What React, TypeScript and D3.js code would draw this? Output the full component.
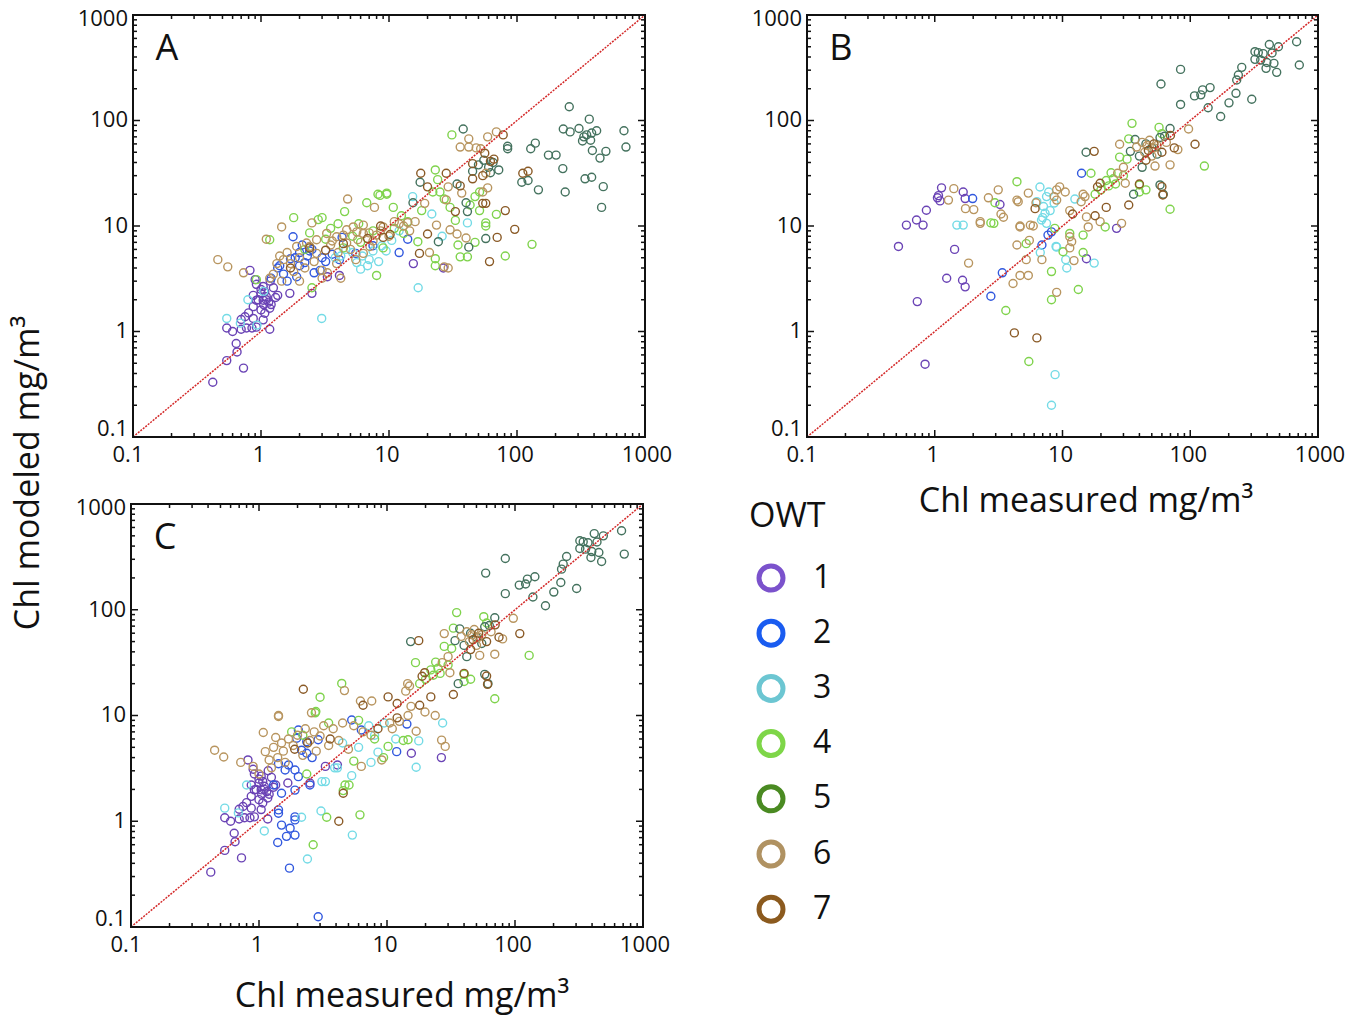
import React from 'react';
import * as d3 from 'd3';

type P = [number, number];

const OWT_LABELS = ['1', '2', '3', '4', '5', '6', '7'];
const POINT_COLORS = ['#6a43b5', '#3158de', '#74dbe6', '#7fd34c', '#44725e', '#b8955f', '#8a5a26'];
const LEGEND_COLORS = ['#7b52cc', '#1a5cf0', '#6cc6d2', '#7ed648', '#4a8a22', '#b09262', '#8b5a1e'];
const TICK_VALUES = [0.1, 1, 10, 100, 1000];
const TICK_LABELS = ['0.1', '1', '10', '100', '1000'];
const X_TITLE = 'Chl measured mg/m³';
const Y_TITLE = 'Chl modeled mg/m³';

// ---------- Panel A ----------
const A1: P[] = [[0.42,0.33],[0.54,0.53],[0.73,0.45],[0.65,0.64],[0.64,0.77],[0.54,1.08],[0.6,1.0],[0.7,1.05],[0.77,1.08],[0.85,1.08],[0.92,1.1],[1.17,1.05],[0.75,1.38],[0.87,1.33],[1.04,1.29],[1.07,1.49],[1.0,1.6],[0.87,1.72],[0.92,1.98],[1.04,1.98],[1.1,2.14],[1.07,2.38],[1.0,2.5],[1.04,2.67],[0.92,2.8],[1.15,1.9],[1.17,1.66],[1.3,2.1],[1.35,2.2],[1.18,3.0],[0.9,3.1],[0.87,2.2],[1.0,2.3],[1.1,2.0],[0.95,2.0],[1.05,1.8],[0.8,1.5],[0.7,1.3],[1.68,2.3],[2.5,2.3],[3.3,3.3],[4.1,3.4],[0.82,3.8],[15.5,4.4],[26.6,4.0],[1.25,2.6],[1.2,1.8]];
const A2: P[] = [[1.78,7.9],[2.1,6.6],[2.4,5.8],[2.0,5.6],[1.7,4.9],[2.0,4.2],[1.4,4.2],[1.35,4.0],[2.6,3.6],[1.9,3.3],[2.9,3.8],[3.2,4.6],[4.1,4.8],[1.6,3.0],[2.3,5.2],[2.5,6.0],[3.6,5.4],[7.5,6.5],[14,7.5],[12,5.6],[4.3,7.8],[1.5,3.5],[2.2,4.5],[1.85,5.0],[1.2,3.2],[3.0,5.0],[5.5,5.5]];
const A3: P[] = [[0.54,1.33],[0.69,1.2],[0.93,1.15],[0.79,2.0],[2.98,1.33],[6.2,5.2],[7.0,4.8],[7.5,5.8],[6.8,4.2],[6.0,3.9],[16.9,2.6],[41,10.7],[26,8],[3.8,5.0],[4.6,6.0],[5.2,5.6],[8.3,4.6],[15.3,19],[21.6,13],[10.5,7.3],[8.8,6.5],[1.05,2.4],[12,9],[5.6,4.5],[9.5,5.8],[4.2,5.2]];
const A4: P[] = [[8.2,20],[9.6,20],[6.7,16.6],[4.5,13.7],[3.0,12],[2.8,11.5],[31,73],[23,34],[24,27.5],[9.6,20.5],[8.5,19.5],[10.8,15],[22,21],[25,21],[51,21],[47,19],[43,15.8],[51,14],[57,10.7],[69,12.9],[57,10],[34.6,6.6],[36,5.1],[41,5.1],[23,4.9],[23,4.2],[81,5.2],[131,6.7],[47,7],[16.8,7.1],[33,11.3],[2.4,8.6],[1.17,7.4],[8.0,3.4],[2.5,2.6],[0.92,3.1],[4.4,6.2],[1.8,12],[3.5,9.5],[5.8,10.5],[7.5,9.0],[12.5,12.5],[14,11],[18,14],[11,9.5],[6,7],[3.2,7.5],[27,18],[30,15],[2.2,6.0],[4.0,10.5],[5.2,8.0],[9.0,6.2],[13,8.5]];
const A5: P[] = [[256,135],[367,103],[230,83],[260,78],[305,84],[333,70],[350,73],[383,76],[419,80],[325,64],[376,65],[685,80],[710,56],[388,52],[445,44],[495,51],[228,35],[340,28],[383,29],[472,23.6],[238,21],[458,15],[176,47],[202,47],[128,54],[139,61],[109,26],[122,27],[147,22],[84.5,57],[84.5,54],[38,83],[50,38],[55,42],[60,36],[65,40],[72,34],[62,32],[24.3,7.1],[57,7.6],[42,6.3],[17.5,26],[34,25],[40,16.6],[41,13.7],[15.4,16.6],[45,33]];
const A6: P[] = [[0.46,4.8],[0.55,4.1],[0.73,3.6],[1.45,9.8],[1.1,7.5],[4.75,18],[7.7,15],[2.5,10.7],[1.9,6.4],[2.27,6.9],[2.72,7.4],[3.26,8.5],[3.9,7.9],[4.67,9.2],[5.26,9.8],[6.3,10.2],[6.3,8.5],[5.7,7.4],[4.67,6.9],[3.5,6.6],[2.72,5.5],[3.0,3.8],[3.3,3.6],[3.9,4.4],[4.2,3.2],[5.5,4.8],[6.3,5.5],[7.1,6.4],[8.0,8.2],[9.0,9.8],[1.17,3.2],[1.33,4.4],[1.5,4.8],[1.6,5.6],[1.25,3.5],[1.45,3.0],[1.8,3.7],[2.2,4.0],[1.4,5.2],[29,4.0],[27,4.1],[20.7,5.6],[23.5,10.2],[30,9.2],[34,8.4],[40,7.7],[29,23.5],[19,16.4],[28,17.7],[37,20.5],[54,21],[59,23],[57,31.6],[52,54],[42,67],[36,56],[42,56],[48,55],[59,70],[69,78],[12,10.5],[14,10.8],[16,11],[13,10],[3.0,3.2],[2.0,3.0],[2.6,4.6],[5.0,6.0],[7.5,7.2],[10,8],[11,11],[14.5,9],[2.4,6.4],[3.6,7.2],[4.4,8.2],[5.6,8.8],[7.0,8.6],[8.6,9.0],[4.0,5.6],[1.7,4.4],[2.0,5.0]];
const A7: P[] = [[96,9.3],[61,4.6],[70,7.8],[17.3,5.5],[20,8.4],[17.7,31.6],[28,31.6],[20,23.5],[33,13.7],[54,16.4],[57,16.4],[81,14],[45,39],[56,49],[78,73],[111,31.6],[122,33],[54,30],[62,41],[66,43],[9.0,7.8],[10.2,8.3],[8.6,10],[4.4,6.8],[2.4,6.2],[36,24],[45,28],[1.7,4.0],[6.8,7.6],[3.2,5.9]];

// ---------- Panel B ----------
const B1: P[] = [[1.13,23],[1.07,19.4],[1.1,17.3],[1.67,21],[1.73,18.2],[3.24,16.0],[0.86,14.1],[0.72,11.4],[0.6,10.2],[0.81,10.2],[0.52,6.4],[1.43,6.0],[1.24,3.2],[1.65,3.06],[1.73,2.65],[0.73,1.92],[0.84,0.49],[15.4,4.9],[26.5,9.5],[1.05,18.5]];
const B2: P[] = [[1.98,18.2],[3.38,3.6],[2.75,2.16],[6.9,6.6],[7.7,8.2],[14.1,31.6],[8.2,8.8]];
const B3: P[] = [[6.66,23.4],[7.5,19],[7.1,15.3],[7.3,13.2],[6.85,11.4],[7.5,10.6],[1.49,10.2],[1.67,10.2],[8.75,0.39],[8.2,0.2],[9,6.3],[6.7,5.6],[8.9,6.4],[10.6,4.8],[10.8,4.0],[17.7,4.45],[12.5,18],[8.6,16.5],[7.8,21],[6.3,17],[7.0,12],[8.0,14]];
const B4: P[] = [[4.4,26.3],[2.96,16.6],[2.75,10.7],[2.9,10.6],[5.2,6.8],[8.2,3.7],[8.2,2.0],[3.6,1.58],[5.45,0.52],[13.3,2.5],[10.1,5.7],[14.5,8.2],[14.5,5.6],[21.6,9.8],[11.4,8.5],[8.7,9.5],[35,94],[57,86],[129,37],[69.5,14.4],[33,67],[16.7,31.6],[24,32],[25,28],[26,25],[23,24],[22,27],[32,43],[40,24.5],[45,22],[40,21],[60,75],[28,45],[30,30],[18,20],[20,22]];
const B5: P[] = [[680,558],[714,336],[416,525],[490,500],[321,449],[341,440],[372,430],[321,380],[356,374],[398,355],[437,437],[452,348],[392,312],[475,286],[253,319],[238,270],[231,242],[228,181],[303,159],[201,147],[173,109],[143,205],[125,195],[121,175],[108,171],[138,132],[84,305],[59,222],[84,142],[15.3,50],[37,66],[34,51],[40,46],[42,36],[58,24.5],[61.5,20],[69.5,84],[58,69],[63,71],[50,55],[45,60],[55,48],[36,20]];
const B6: P[] = [[1.41,22.6],[1.28,17.6],[1.74,14.6],[2.02,14.3],[2.27,11],[2.63,18.5],[3.14,22],[3.3,13],[3.45,12.1],[4.4,17.6],[4.5,17.0],[5.4,20.5],[6.2,16.6],[4.65,10],[5.9,10],[9.0,22],[9.0,17.6],[1.84,4.45],[2.27,10.6],[4.65,9.8],[5.6,10.2],[4.4,6.6],[5.5,7.3],[5.2,4.8],[6.9,4.8],[4.65,3.4],[5.4,3.4],[4.1,2.85],[9.0,2.35],[11.4,7.9],[11.8,7.1],[11.4,6.2],[12.3,4.7],[15.9,9.8],[19.7,11],[29,10.6],[28,59.5],[42,62],[46,58],[44,50],[50,46],[52,55],[48,65],[97,83],[80,53],[69.5,38],[53,37],[31,25.4],[30,36],[27,31.6],[14,17],[15,19],[14.5,20],[9.5,23.5],[10.5,21],[8.6,19],[15.4,12.2],[11.4,14],[38,56],[55,58],[65,62]];
const B7: P[] = [[6.1,14.6],[4.2,0.97],[6.3,0.87],[17.7,51],[109,59.5],[61,19.7],[60,23.6],[33,15.8],[40,25],[19.7,25.4],[18.8,23.5],[18,12.5],[12,13],[47,52],[52,60],[60,50],[45,42],[70,72],[75,55],[22,15]];

// ---------- Panel C (low-range points; high-range shared with B) ----------
const C2: P[] = [[2.03,7.3],[2.36,5.65],[1.97,6.1],[2.9,5.9],[1.7,3.4],[1.91,3.05],[2.03,2.64],[1.5,1.84],[1.91,1.97],[2.5,2.2],[1.42,1.28],[1.42,1.19],[1.5,0.92],[1.75,0.86],[1.91,1.03],[1.91,1.1],[1.91,0.74],[1.64,0.72],[1.4,0.63],[1.73,0.36],[2.9,0.125],[5.3,9.06],[6.3,7.3],[2.15,4.7],[2.36,4.4],[1.42,3.5],[1.6,3.05],[14.3,8.3],[11.9,4.55],[1.3,2.2],[2.6,4.0]];
const C3: P[] = [[0.8,2.2],[1.1,0.81],[2.15,1.09],[2.39,0.44],[3.05,1.25],[5.36,0.74],[3.1,2.37],[3.3,2.37],[5.3,2.7],[3.9,3.2],[4.1,3.2],[7.5,3.6],[8.5,4.5],[8.0,6.5],[9.5,8.5],[7.2,8.0],[27.2,8.5],[17.7,5.75],[16.9,3.24],[11.7,6],[0.54,1.33],[0.69,1.2],[6.0,5.0],[4.5,5.5]];
const C4_LOW: P[] = [[2.65,0.6],[3.38,1.09],[6.15,1.15],[4.55,1.95],[4.7,2.2],[5.05,2.2],[2.36,2.8],[2.75,10.6],[5.5,3.7],[4.43,20.1],[3.0,14.9],[2.78,10.9],[14.6,5.9],[13.4,5.8],[10.2,5.1],[9.4,4.0],[1.8,7.0],[3.5,8.5],[6.0,9.0],[8.0,6.0],[2.2,6.5]];
const C6_LOW: P[] = [[4.65,17.2],[6.2,13.7],[7.6,13.7],[2.57,10.6],[1.42,10],[0.45,4.7],[0.53,4.05],[0.72,3.6],[1.08,6.9],[1.42,9.8],[1.12,4.55],[1.3,5.0],[1.5,5.5],[1.7,6.0],[2.0,6.5],[2.3,7.5],[2.7,7.0],[3.2,8.0],[3.8,7.5],[4.5,8.5],[5.5,8.0],[6.5,7.0],[7.5,6.5],[1.4,4.0],[1.6,3.6],[2.2,4.2],[2.8,4.6],[3.5,5.2],[4.2,5.8],[5.0,4.8],[6.3,3.3],[1.25,3.2],[10.5,8.5],[11,7.5],[12.5,8.8],[16.9,7.1],[9.1,3.8],[26.7,5.85],[28.5,5.1],[14.6,10],[19.8,10.8],[23.8,10],[1.0,2.8],[0.9,3.3],[1.2,3.8],[1.55,4.6],[1.85,5.2],[2.5,5.8],[3.0,6.4],[1.35,6.2]];
const C7_LOW: P[] = [[2.22,17.7],[4.2,1.0],[4.55,1.84],[6.5,12.5],[3.6,6.0],[2.4,5.5],[8.5,7.5],[12,9.5],[10.2,15],[1.9,4.8]];

const highOnly = (arr: P[]) => arr.filter(([x, y]) => x >= 12 && y >= 12);

const SERIES_A = [A1, A2, A3, A4, A5, A6, A7];
const SERIES_B = [B1, B2, B3, B4, B5, B6, B7];
const SERIES_C = [A1, C2, C3, [...C4_LOW, ...highOnly(B4)], B5, [...C6_LOW, ...highOnly(B6)], [...C7_LOW, ...highOnly(B7)]];

const FONT = '"Open Sans", "Liberation Sans", Arial, sans-serif';

interface PanelProps {
  x0: number; x1: number; y0: number; y1: number;
  letter: string; series: P[][];
}

function Panel({ x0, x1, y0, y1, letter, series }: PanelProps) {
  const xs = d3.scaleLog().domain([0.1, 1000]).range([x0, x1]);
  const ys = d3.scaleLog().domain([0.1, 1000]).range([y1, y0]);
  const ticks: { v: number; major: boolean }[] = [];
  [0.1, 1, 10, 100].forEach((d) => {
    for (let k = 1; k <= 9; k++) ticks.push({ v: d * k, major: k === 1 });
  });
  ticks.push({ v: 1000, major: true });
  const line = d3.line<number>().x((v) => xs(v)).y((v) => ys(v));
  const tickEls: React.ReactNode[] = [];
  ticks.forEach((t, i) => {
    const L = t.major ? 7 : 4;
    const x = xs(t.v);
    const y = ys(t.v);
    tickEls.push(<line key={'b' + i} x1={x} x2={x} y1={y1} y2={y1 - L} />);
    tickEls.push(<line key={'t' + i} x1={x} x2={x} y1={y0} y2={y0 + L} />);
    tickEls.push(<line key={'l' + i} x1={x0} x2={x0 + L} y1={y} y2={y} />);
    tickEls.push(<line key={'r' + i} x1={x1} x2={x1 - L} y1={y} y2={y} />);
  });
  return (
    <g>
      {series.map((pts, si) => (
        <g key={si} fill="none" stroke={POINT_COLORS[si]} strokeWidth={1.4}>
          {pts.map((p, pi) => (
            <circle key={pi} cx={xs(p[0])} cy={ys(p[1])} r={4} />
          ))}
        </g>
      ))}
      <path d={line([0.1, 1000]) || ''} stroke="#d42a2a" strokeWidth={1.5} strokeDasharray="2,1.2" fill="none" />
      <rect x={x0} y={y0} width={x1 - x0} height={y1 - y0} fill="none" stroke="#111" strokeWidth={2} />
      <g stroke="#111" strokeWidth={1.5}>{tickEls}</g>
      <g fontFamily={FONT} fontSize={22} fill="#111">
        {TICK_VALUES.map((v, i) => (
          <text key={'xl' + i} x={xs(v) + (i === 0 ? -5 : i === 4 ? 2 : -2)} y={y1 + 19} textAnchor="middle" dominantBaseline="middle">{TICK_LABELS[i]}</text>
        ))}
        {TICK_VALUES.map((v, i) => (
          <text key={'yl' + i} x={x0 - 5} y={ys(v) + (i === 0 ? -7 : i === 4 ? 5 : 1)} textAnchor="end" dominantBaseline="middle">{TICK_LABELS[i]}</text>
        ))}
      </g>
      <text x={x0 + 34} y={y0 + 35} fontFamily={FONT} fontSize={36} textAnchor="middle" dominantBaseline="middle" fill="#111">{letter}</text>
    </g>
  );
}

export default function App() {
  const legendY = (i: number) => 578 + i * 55.2;
  return (
    <svg width={1371} height={1021} style={{ position: 'absolute', left: 0, top: 0, background: '#fff' }}>
      <rect x={0} y={0} width={1371} height={1021} fill="#fff" />
      <Panel x0={133} x1={645} y0={15} y1={437} letter="A" series={SERIES_A} />
      <Panel x0={807} x1={1318} y0={15} y1={437} letter="B" series={SERIES_B} />
      <Panel x0={131} x1={643} y0={504} y1={927} letter="C" series={SERIES_C} />
      <g fontFamily={FONT} fill="#111">
        <text x={1086} y={503} fontSize={34} textAnchor="middle" dominantBaseline="middle">{X_TITLE}</text>
        <text x={402} y={998} fontSize={34} textAnchor="middle" dominantBaseline="middle">{X_TITLE}</text>
        <text transform="translate(30,473) rotate(-90)" fontSize={34} textAnchor="middle" dominantBaseline="middle">{Y_TITLE}</text>
        <text x={749} y={518} fontSize={34} dominantBaseline="middle">OWT</text>
        {OWT_LABELS.map((lab, i) => (
          <g key={lab}>
            <circle cx={771} cy={legendY(i)} r={12} fill="none" stroke={LEGEND_COLORS[i]} strokeWidth={5} />
            <text x={813} y={legendY(i) + 1} fontSize={32} dominantBaseline="middle">{lab}</text>
          </g>
        ))}
      </g>
    </svg>
  );
}
